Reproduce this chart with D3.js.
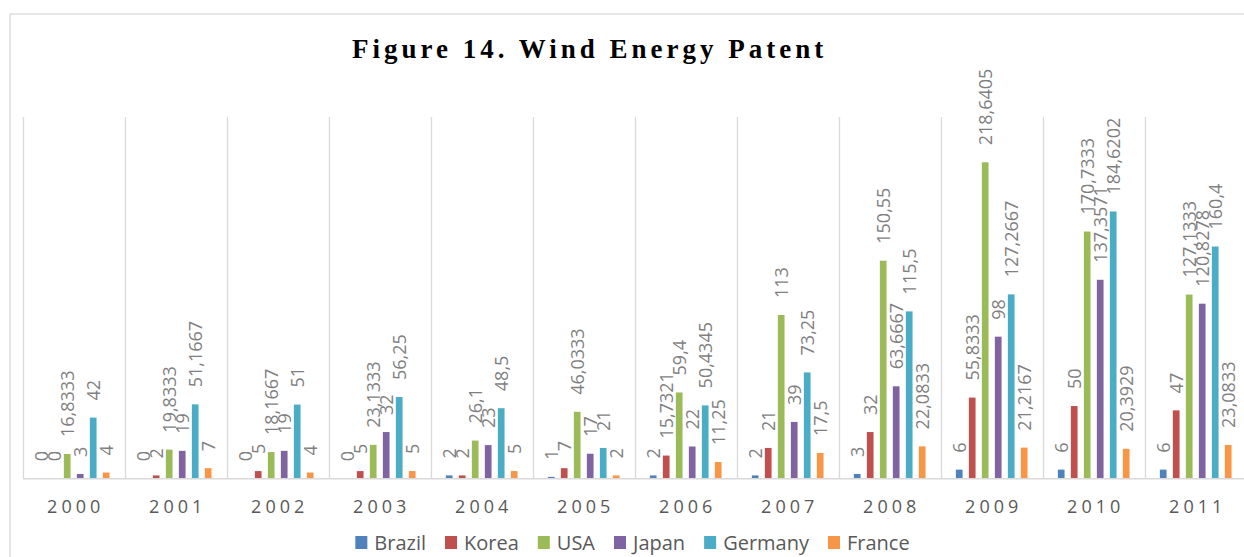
<!DOCTYPE html>
<html>
<head>
<meta charset="utf-8">
<script src="https://cdn.jsdelivr.net/npm/d3@7"></script>
<style>
    body { margin: 0; background: #fff; }
    svg { display: block; }
</style>
</head>
<body>
<svg width="1244" height="557"></svg>
<script>
// years on the x axis
var years = ["2000", "2001", "2002", "2003", "2004", "2005", "2006", "2007", "2008", "2009", "2010", "2011"];
var countries = ["Brazil", "Korea", "USA", "Japan", "Germany", "France"];

// patent counts per country
var brazil  = [0, 0, 0, 0, 2, 1, 2, 2, 3, 6, 6, 6];
var korea   = [0, 2, 5, 5, 2, 7, 15.7321, 21, 32, 55.8333, 50, 47];
var usa     = [16.8333, 19.8333, 18.1667, 23.1333, 26.1, 46.0333, 59.4, 113, 150.55, 218.6405, 170.7333, 127.1333];
var japan   = [3, 19, 19, 32, 23, 17, 22, 39, 63.6667, 98, 137.3571, 120.8278];
var germany = [42, 51.1667, 51, 56.25, 48.5, 21, 50.4345, 73.25, 115.5, 127.2667, 184.6202, 160.4];
var france  = [4, 7, 4, 5, 5, 2, 11.25, 17.5, 22.0833, 21.2167, 20.3929, 23.0833];

var colors = ["#4f81bd", "#c0504d", "#9bbb59", "#8064a2", "#4bacc6", "#f79646"];

var values = [brazil, korea, usa, japan, germany, france];
var rows = [];
years.forEach(function (yr, i) {
    countries.forEach(function (c, j) {
        rows.push({ year: yr, country: c, value: values[j][i] });
    });
});

var svg = d3.select("svg");

// outer frame of the chart
svg.append("rect")
    .attr("x", 10).attr("y", 14)
    .attr("width", 1400).attr("height", 700)
    .attr("fill", "none")
    .attr("stroke", "#d9d9d9")
    .attr("stroke-width", 1.3);

// title
svg.append("text")
    .attr("x", 352).attr("y", 58)
    .style("font-family", "'Liberation Serif', 'Times New Roman', serif")
    .style("font-weight", "bold")
    .style("font-size", "27px")
    .style("letter-spacing", "4px")
    .attr("fill", "#000")
    .text("Figure 14. Wind Energy Patent");

var x0 = d3.scaleBand().domain(years).range([22.7, 1246.7]).padding(0);
var x1 = d3.scaleBand().domain(countries).range([0, x0.bandwidth()])
    .paddingInner(0.485).paddingOuter(1.166);
var y = d3.scaleLinear().domain([0, 250]).range([478.3, 117]);
var color = d3.scaleOrdinal().domain(countries).range(colors);

// vertical separators between years
svg.append("g").selectAll("line")
    .data(years)
    .enter().append("line")
    .attr("x1", function (d) { return Math.round(x0(d)) + 0.5; })
    .attr("x2", function (d) { return Math.round(x0(d)) + 0.5; })
    .attr("y1", y(250)).attr("y2", y(0))
    .attr("stroke", "#d9d9d9")
    .attr("stroke-width", 1.3);

// bars
svg.append("g").selectAll("rect")
    .data(rows)
    .enter().append("rect")
    .attr("x", function (d) { return x0(d.year) + x1(d.country); })
    .attr("y", function (d) { return y(d.value); })
    .attr("width", x1.bandwidth())
    .attr("height", function (d) { return y(0) - y(d.value); })
    .attr("fill", function (d) { return color(d.country); });

// baseline
svg.append("line")
    .attr("x1", 22.7).attr("x2", 1246.7)
    .attr("y1", y(0) + 0.5).attr("y2", y(0) + 0.5)
    .attr("stroke", "#d9d9d9")
    .attr("stroke-width", 1.6);

// value labels, comma decimals
var fmt = d3.format(".4~f");
svg.append("g").selectAll("text")
    .data(rows)
    .enter().append("text")
    .attr("transform", function (d) {
        var cx = x0(d.year) + x1(d.country) + x1.bandwidth() / 2;
        return "translate(" + cx + "," + (y(d.value) - 17) + ") rotate(-90)";
    })
    .attr("dy", "0.35em")
    .style("font-family", "'Open Sans', sans-serif")
    .style("font-size", "18px")
    .attr("fill", "#7f7f7f")
    .text(function (d) { return fmt(d.value).replace(".", ","); });

// year labels
svg.append("g").selectAll("text")
    .data(years)
    .enter().append("text")
    .attr("x", function (d) { return x0(d) + x0.bandwidth() / 2 + 2; })
    .attr("y", 513)
    .attr("text-anchor", "middle")
    .style("font-family", "'Open Sans', sans-serif")
    .style("font-size", "18px")
    .style("letter-spacing", "4px")
    .attr("fill", "#595959")
    .text(function (d) { return d; });

// legend, centred under the plot
var legend = svg.append("g");
var items = legend.selectAll("g")
    .data(countries)
    .enter().append("g");
items.append("rect")
    .attr("width", 12).attr("height", 13)
    .attr("y", 536)
    .attr("fill", function (d) { return color(d); });
items.append("text")
    .attr("x", 19).attr("y", 550)
    .style("font-family", "'Open Sans', sans-serif")
    .style("font-size", "20px")
    .attr("fill", "#595959")
    .text(function (d) { return d; });

var pos = 0;
items.each(function () {
    var w = d3.select(this).select("text").node().getComputedTextLength();
    d3.select(this).attr("transform", "translate(" + pos + ",0)");
    pos += 19 + w + 19;
});
var total = pos - 19;
legend.attr("transform", "translate(" + (632.5 - total / 2) + ",0)");
</script>
</body>
</html>
